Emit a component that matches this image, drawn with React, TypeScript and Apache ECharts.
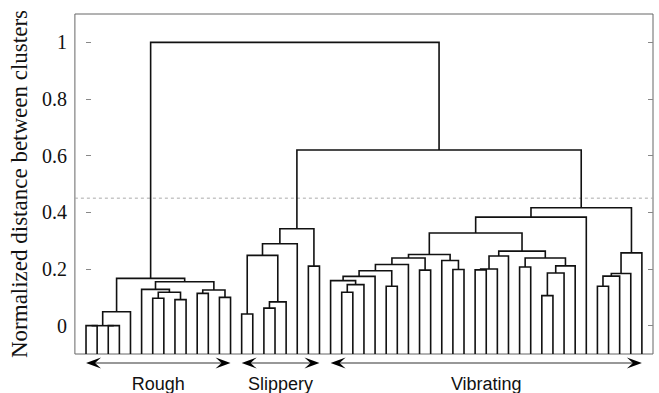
import React, { useEffect, useRef } from 'react';
import * as echarts from 'echarts';

const LEAF_COUNT = 51;
const Y_MIN = -0.1;
const Y_MAX = 1.1;
const Y_TICKS = [0, 0.2, 0.4, 0.6, 0.8, 1];
const THRESHOLD = 0.45;
const Y_TITLE = 'Normalized distance between clusters';

// Linkage: [childA, childB, distance]; ids 0..50 are leaves, id 51+k is the k-th merge
const MERGES: [number, number, number][] = [
  // Rough
  [0, 1, 0.0],
  [2, 3, 0.0],
  [51, 52, 0.0],
  [53, 4, 0.049],
  [6, 7, 0.097],
  [8, 9, 0.092],
  [55, 56, 0.118],
  [5, 57, 0.128],
  [10, 11, 0.114],
  [12, 13, 0.1],
  [59, 60, 0.126],
  [58, 61, 0.155],
  [54, 62, 0.167],
  // Slippery
  [14, 15, 0.041],
  [16, 17, 0.062],
  [65, 18, 0.084],
  [64, 66, 0.248],
  [67, 19, 0.289],
  [20, 21, 0.21],
  [68, 69, 0.342],
  // Vibrating
  [23, 24, 0.118],
  [71, 25, 0.145],
  [22, 72, 0.159],
  [73, 26, 0.174],
  [27, 28, 0.139],
  [74, 75, 0.194],
  [76, 29, 0.216],
  [30, 31, 0.196],
  [77, 78, 0.239],
  [33, 34, 0.198],
  [32, 80, 0.23],
  [79, 81, 0.251],
  [35, 36, 0.197],
  [83, 37, 0.2],
  [84, 38, 0.246],
  [39, 40, 0.207],
  [41, 42, 0.106],
  [87, 43, 0.186],
  [88, 44, 0.211],
  [86, 89, 0.239],
  [85, 90, 0.263],
  [82, 91, 0.327],
  [92, 45, 0.383],
  [46, 47, 0.139],
  [94, 48, 0.175],
  [95, 49, 0.184],
  [96, 50, 0.257],
  [93, 97, 0.416],
  [70, 98, 0.62],
  [63, 99, 1.0],
];

const GROUP_NAMES = ['Rough', 'Slippery', 'Vibrating'];
const GROUP_FIRST = [0, 14, 22];
const GROUP_LAST = [13, 21, 50];

function buildSegments() {
  const xs: number[] = [];
  const hs: number[] = [];
  for (let i = 0; i < LEAF_COUNT; i++) {
    xs[i] = i;
    hs[i] = Y_MIN;
  }
  return MERGES.map(([a, b, h], k) => {
    const id = LEAF_COUNT + k;
    xs[id] = (xs[a] + xs[b]) / 2;
    hs[id] = h;
    return [xs[a], hs[a], xs[b], hs[b], h];
  });
}

export default function App() {
  const ref = useRef<HTMLDivElement>(null);

  useEffect(() => {
    if (!ref.current) return;
    const chart = echarts.init(ref.current, undefined, { renderer: 'svg' });
    const segData = buildSegments();
    const groupData = GROUP_NAMES.map((_, i) => [GROUP_FIRST[i], GROUP_LAST[i], i]);
    const serif = '"Liberation Serif", "Times New Roman", serif';
    const sans = '"Liberation Sans", Arial, sans-serif';

    chart.setOption({
      animation: false,
      grid: {
        left: 72,
        right: 6,
        top: 14,
        bottom: 39,
        show: true,
        borderColor: '#666',
        borderWidth: 1,
        containLabel: false,
      },
      xAxis: {
        type: 'value',
        min: -1,
        max: LEAF_COUNT,
        show: false,
      },
      yAxis: [
        {
          type: 'value',
          min: Y_MIN,
          max: Y_MAX,
          position: 'left',
          name: Y_TITLE,
          nameLocation: 'middle',
          nameGap: 33,
          nameTextStyle: { fontFamily: serif, fontSize: 23, color: '#111' },
          axisLine: { show: false },
          axisTick: {
            show: true,
            inside: true,
            length: 5,
            lineStyle: { color: '#888' },
            customValues: Y_TICKS,
          },
          axisLabel: {
            show: true,
            margin: 8,
            fontFamily: serif,
            fontSize: 20,
            color: '#111',
            customValues: Y_TICKS,
            formatter: (v: number) => String(Math.round(v * 10) / 10),
          },
          splitLine: { show: false },
        },
        {
          type: 'value',
          min: Y_MIN,
          max: Y_MAX,
          position: 'right',
          axisLine: { show: false },
          axisTick: {
            show: true,
            inside: true,
            length: 5,
            lineStyle: { color: '#888' },
            customValues: Y_TICKS,
          },
          axisLabel: { show: false },
          splitLine: { show: false },
        },
      ],
      series: [
        {
          type: 'line',
          data: [[-1, THRESHOLD], [LEAF_COUNT, THRESHOLD]],
          symbol: 'none',
          silent: true,
          lineStyle: { color: '#aaa', width: 1, type: [3, 3] },
          z: 1,
        },
        {
          type: 'custom',
          data: segData,
          clip: false,
          silent: true,
          z: 3,
          renderItem: (_params: any, api: any) => {
            const a = api.coord([api.value(0), api.value(1)]);
            const at = api.coord([api.value(0), api.value(4)]);
            const bt = api.coord([api.value(2), api.value(4)]);
            const b = api.coord([api.value(2), api.value(3)]);
            return {
              type: 'polyline',
              shape: { points: [a, at, bt, b] },
              style: { stroke: '#111', lineWidth: 1.6, fill: null },
            };
          },
        },
        {
          type: 'custom',
          data: groupData,
          clip: false,
          silent: true,
          z: 3,
          renderItem: (_params: any, api: any) => {
            const p1 = api.coord([api.value(0), Y_MIN]);
            const p2 = api.coord([api.value(1), Y_MIN]);
            const L = p1[0];
            const R = p2[0];
            const y = p1[1] + 9;
            const ty = p1[1] + 30;
            const name = GROUP_NAMES[api.value(2)];
            return {
              type: 'group',
              children: [
                {
                  type: 'line',
                  shape: { x1: L + 4, y1: y, x2: R - 4, y2: y },
                  style: { stroke: '#333', lineWidth: 1.1 },
                },
                {
                  type: 'polygon',
                  shape: { points: [[L, y], [L + 15, y - 5.5], [L + 9, y], [L + 15, y + 5.5]] },
                  style: { fill: '#000' },
                },
                {
                  type: 'polygon',
                  shape: { points: [[R, y], [R - 15, y - 5.5], [R - 9, y], [R - 15, y + 5.5]] },
                  style: { fill: '#000' },
                },
                {
                  type: 'text',
                  x: (L + R) / 2,
                  y: ty,
                  style: {
                    text: name,
                    fill: '#111',
                    fontSize: 18,
                    fontFamily: sans,
                    align: 'center',
                    verticalAlign: 'middle',
                  },
                },
              ],
            };
          },
        },
      ],
    });
    return () => chart.dispose();
  }, []);

  return (
    <div
      ref={ref}
      style={{ position: 'absolute', left: 0, top: 0, width: 659, height: 393, background: '#fff' }}
    />
  );
}
